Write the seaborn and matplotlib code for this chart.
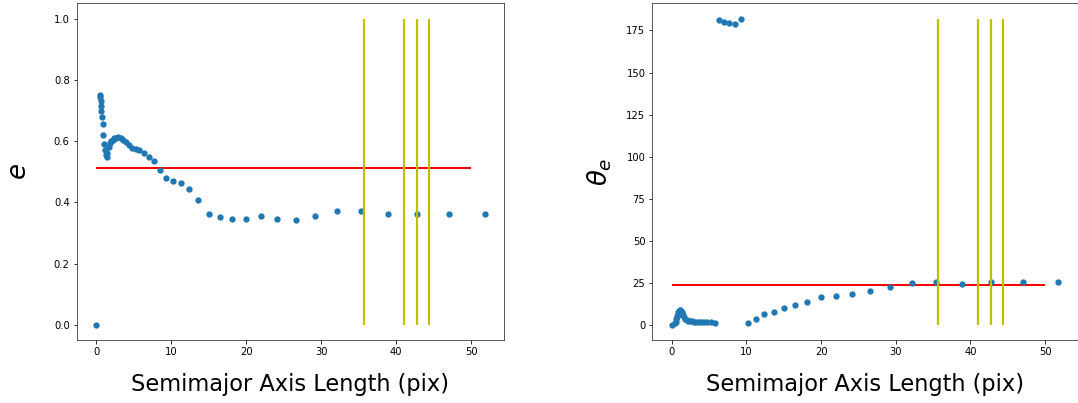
import matplotlib
matplotlib.use("Agg")
import matplotlib.pyplot as plt
import seaborn as sns
import pandas as pd

# Semimajor axis lengths (pix)
sma = [0.0, 0.48, 0.53, 0.59, 0.65, 0.71, 0.78, 0.86, 0.95, 1.04, 1.15,
       1.26, 1.39, 1.52, 1.68, 1.84, 2.03, 2.23, 2.45, 2.70, 2.97,
       3.27, 3.59, 3.95, 4.35, 4.78, 5.26, 5.78,
       6.36, 7.00, 7.70, 8.47, 9.31,
       10.24, 11.27, 12.39, 13.63, 15.00, 16.50, 18.15, 19.96, 21.96,
       24.15, 26.57, 29.22, 32.15, 35.36, 38.90, 42.79, 47.07, 51.77]

# Ellipticity
eps = [0.0, 0.750, 0.745, 0.730, 0.715, 0.700, 0.680, 0.655, 0.620, 0.590, 0.570,
       0.555, 0.550, 0.560, 0.580, 0.595, 0.600, 0.605, 0.610, 0.612, 0.615,
       0.612, 0.605, 0.597, 0.588, 0.578, 0.575, 0.572,
       0.562, 0.550, 0.535, 0.506, 0.480,
       0.470, 0.464, 0.443, 0.408, 0.362, 0.351, 0.347, 0.347, 0.357,
       0.347, 0.343, 0.357, 0.372, 0.372, 0.363, 0.363, 0.363, 0.363]

# Position angle (deg)
pa = [0.0, 1.0, 2.0, 3.5, 4.5, 5.5, 6.5, 7.5, 8.5, 9.0, 9.0,
      8.5, 7.5, 6.0, 4.5, 3.5, 3.0, 2.5, 2.5, 2.5, 2.0,
      2.0, 2.0, 1.5, 1.5, 2.0, 1.5, 1.0,
      181.0, 180.0, 179.5, 179.0, 182.0,
      1.4, 3.4, 6.4, 7.9, 9.9, 11.9, 13.5, 16.5, 17.5,
      18.3, 20.1, 22.8, 24.9, 25.5, 24.6, 25.5, 25.5, 25.5]

# Reference values
eps_mean = 0.511
pa_mean = 23.9
line_x_start, line_x_end = 0, 50
marker_sma = [35.7, 41.0, 42.8, 44.3]

df = pd.DataFrame({"sma": sma, "eps": eps, "pa": pa})

fig = plt.figure(figsize=(1078 / 72, 403 / 72), dpi=72)
ax1 = fig.add_axes([0.0711, 0.1556, 0.3965, 0.836])
ax2 = fig.add_axes([0.6052, 0.1556, 0.3945, 0.836])

blue = "#1f77b4"

# Left: ellipticity
ax1.hlines(eps_mean, line_x_start, line_x_end, color="r", lw=2, zorder=1)
sns.scatterplot(data=df, x="sma", y="eps", ax=ax1, color=blue, s=40,
                linewidth=0, zorder=2)
ax1.vlines(marker_sma, 0, 1, color="y", lw=2.2, zorder=3)
ax1.set_xlabel("Semimajor Axis Length (pix)", fontsize=22.5, labelpad=16)
ax1.set_ylabel("$e$", fontsize=26, labelpad=22)

# Right: position angle
ax2.hlines(pa_mean, line_x_start, line_x_end, color="r", lw=2, zorder=1)
sns.scatterplot(data=df, x="sma", y="pa", ax=ax2, color=blue, s=40,
                linewidth=0, zorder=2)
ax2.vlines(marker_sma, 0, max(pa), color="y", lw=2.2, zorder=3)
ax2.set_xlabel("Semimajor Axis Length (pix)", fontsize=22.5, labelpad=16)
ax2.set_ylabel(r"$\theta_e$", fontsize=26, labelpad=12)

for ax in (ax1, ax2):
    ax.tick_params(labelsize=10)
    for sp in ax.spines.values():
        sp.set_color("#333333")

fig.savefig("out.png", dpi=72)
